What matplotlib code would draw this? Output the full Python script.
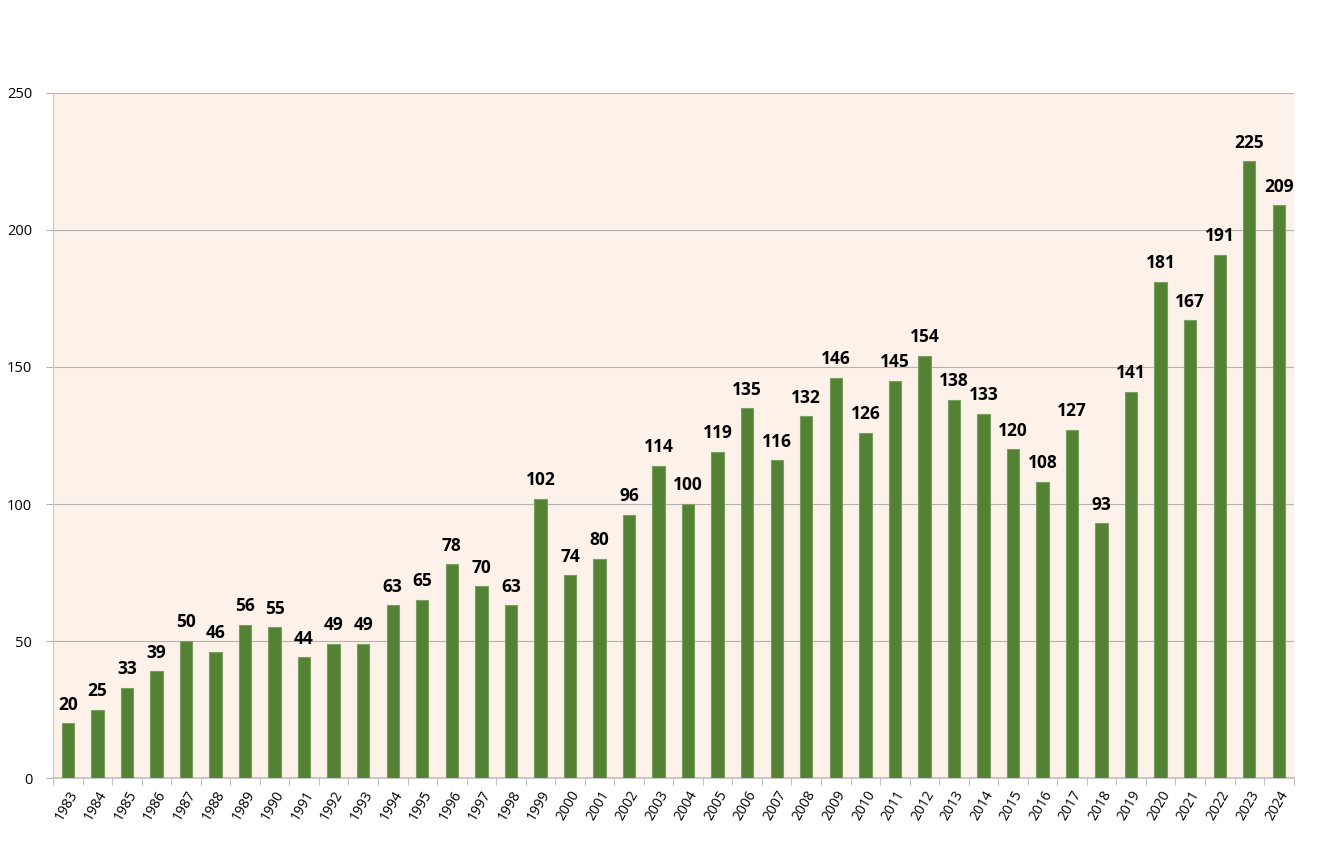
import matplotlib
matplotlib.use("Agg")
import matplotlib.pyplot as plt
import numpy as np

years = [str(y) for y in range(1983, 2025)]
counts = [20, 25, 33, 39, 50, 46, 56, 55, 44, 49, 49, 63, 65, 78, 70, 63,
          102, 74, 80, 96, 114, 100, 119, 135, 116, 132, 146, 126, 145, 154,
          138, 133, 120, 108, 127, 93, 141, 181, 167, 191, 225, 209]

plt.rcParams['font.family'] = ['Open Sans', 'DejaVu Sans']

fig = plt.figure(figsize=(13.2, 8.6), dpi=100)
ax = fig.add_axes([0.0402, 0.0953, 0.9398, 0.7966])
ax.set_facecolor('#fdf2e9')

x = np.arange(len(years))
ax.bar(x, counts, width=0.42, color='#548235', edgecolor='#7a9e5f', linewidth=0.8, zorder=3)
for xi, v in zip(x, counts):
    ax.text(xi, v + 3.5, str(v), ha='center', va='bottom', fontsize=12.5,
            fontweight='bold', color='black', zorder=4)

ax.set_xlim(-0.5, len(years) - 0.5)
ax.set_ylim(0, 250)
ax.set_yticks([0, 50, 100, 150, 200, 250])
ax.yaxis.grid(True, color='#b3b3b3', linewidth=0.8, zorder=0)

ax.set_xticks(x)
ax.set_xticklabels(years, rotation=60, ha='right', rotation_mode='anchor', fontsize=10)
ax.tick_params(axis='x', length=0, pad=7)
ax.set_xticks(np.arange(-0.5, len(years)), minor=True)
ax.tick_params(axis='x', which='minor', length=5, color='#b3b3b3', direction='out')
ax.tick_params(axis='y', length=5, color='#b3b3b3', labelsize=10.5, pad=10)

for side in ['top', 'right']:
    ax.spines[side].set_visible(False)
ax.spines['left'].set_color('#c8c8c8')
ax.spines['bottom'].set_color('#c8c8c8')
ax.spines['bottom'].set_linewidth(1.5)

fig.savefig('out.png', dpi=100, facecolor='white')
